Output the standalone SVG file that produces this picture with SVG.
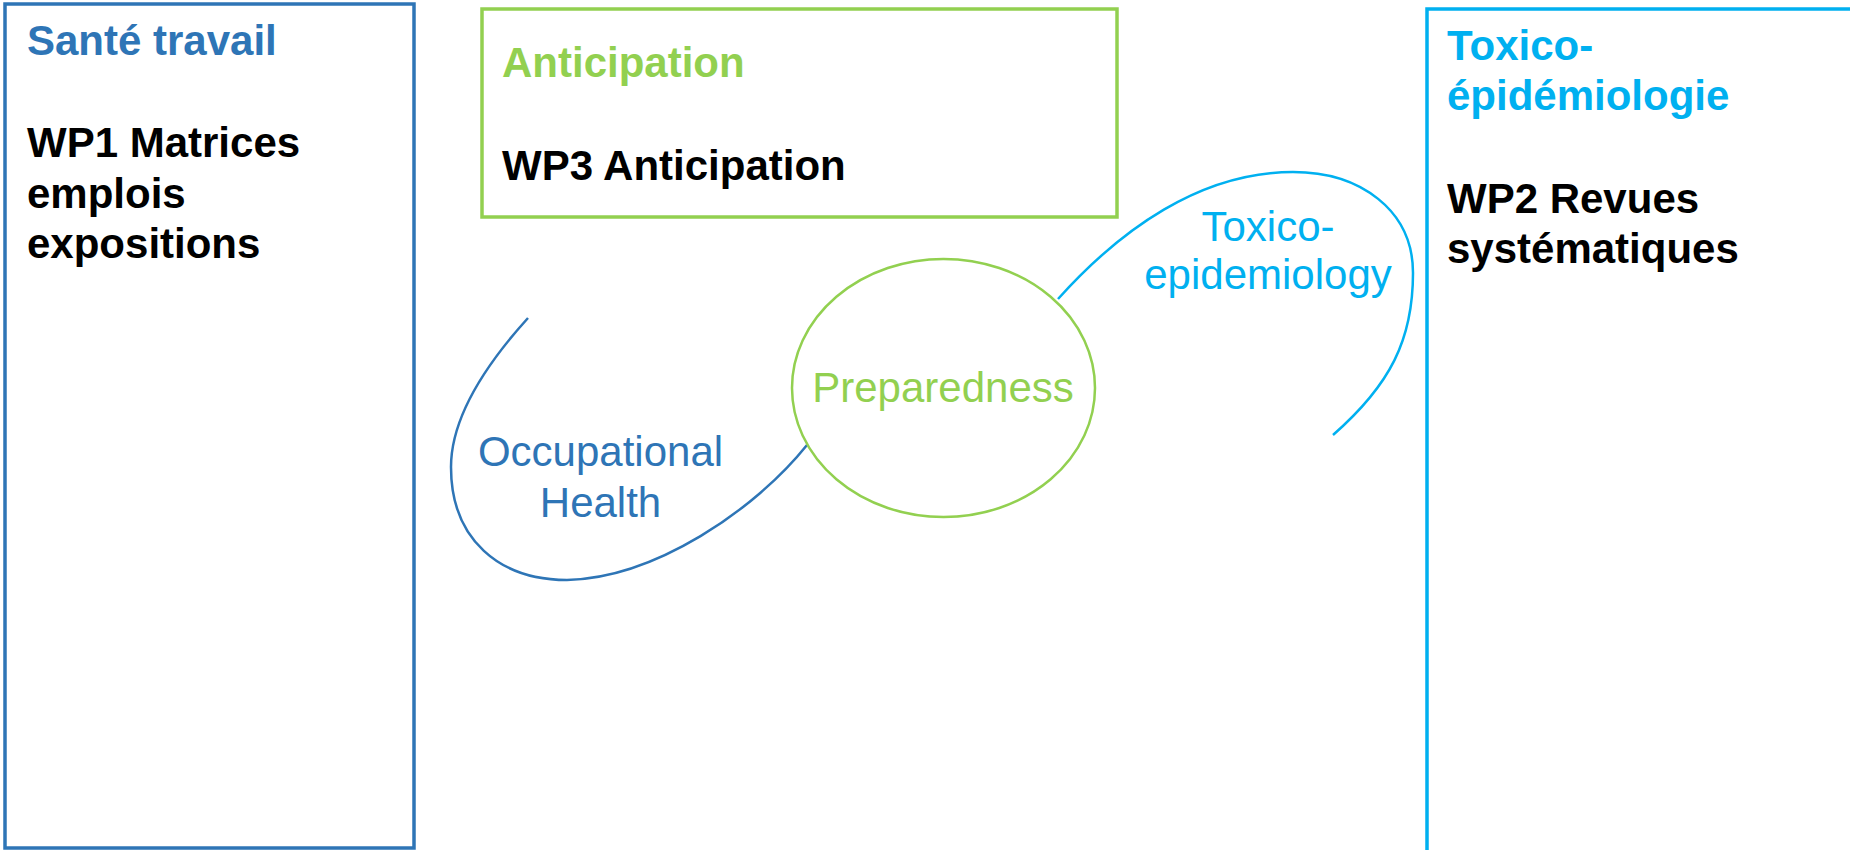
<svg xmlns="http://www.w3.org/2000/svg" width="1850" height="850" viewBox="0 0 1850 850">
<style>
.box{fill:none;stroke-width:3.5}
.t{font-family:"Liberation Sans",Arial,sans-serif;font-size:42px}
.b{font-weight:bold}
.blue{fill:#2E75B6}
.green{fill:#92D050}
.cyan{fill:#00B0F0}
.blk{fill:#000}
.arc{fill:none;stroke-width:2.5}
</style>
<rect width="1850" height="850" fill="#fff"/>
<g id="sante-travail">
<rect class="box" x="5" y="4" width="409" height="844" stroke="#2E75B6"/>
<text class="t b blue" x="27" y="55">Santé travail</text>
<text class="t b blk" x="27" y="157">WP1 Matrices</text>
<text class="t b blk" x="27" y="208">emplois</text>
<text class="t b blk" x="27" y="258">expositions</text>
</g>
<g id="anticipation">
<rect class="box" x="482" y="9" width="635" height="208" stroke="#92D050"/>
<text class="t b green" x="502" y="77">Anticipation</text>
<text class="t b blk" x="502" y="180">WP3 Anticipation</text>
</g>
<g id="toxico-epidemiologie">
<rect class="box" x="1427" y="9" width="430" height="850" stroke="#00B0F0"/>
<text class="t b cyan" x="1447" y="60">Toxico-</text>
<text class="t b cyan" x="1447" y="110">épidémiologie</text>
<text class="t b blk" x="1447" y="213">WP2 Revues</text>
<text class="t b blk" x="1447" y="263">systématiques</text>
</g>
<g id="connectors">
<path class="arc" stroke="#2E75B6" d="M528,318 C490,360 451,415 451,467 C451,540 500,580 567,580 C655,578 755,510 807,445"/>
<path class="arc" stroke="#00B0F0" d="M1058,299 C1120,230 1200,172 1293,172 C1360,172 1413,210 1413,273 C1413,340 1390,385 1333,435"/>
</g>
<g id="occupational-health">
<text class="t blue" x="600.5" y="466" text-anchor="middle">Occupational</text>
<text class="t blue" x="600.5" y="517" text-anchor="middle">Health</text>
</g>
<g id="toxico-epidemiology">
<text class="t cyan" x="1268" y="241" text-anchor="middle">Toxico-</text>
<text class="t cyan" x="1268" y="289" text-anchor="middle">epidemiology</text>
</g>
<g id="preparedness">
<ellipse cx="943.5" cy="388" rx="151.5" ry="129" fill="none" stroke="#92D050" stroke-width="2.5"/>
<text class="t green" x="943" y="402" text-anchor="middle">Preparedness</text>
</g>
</svg>
